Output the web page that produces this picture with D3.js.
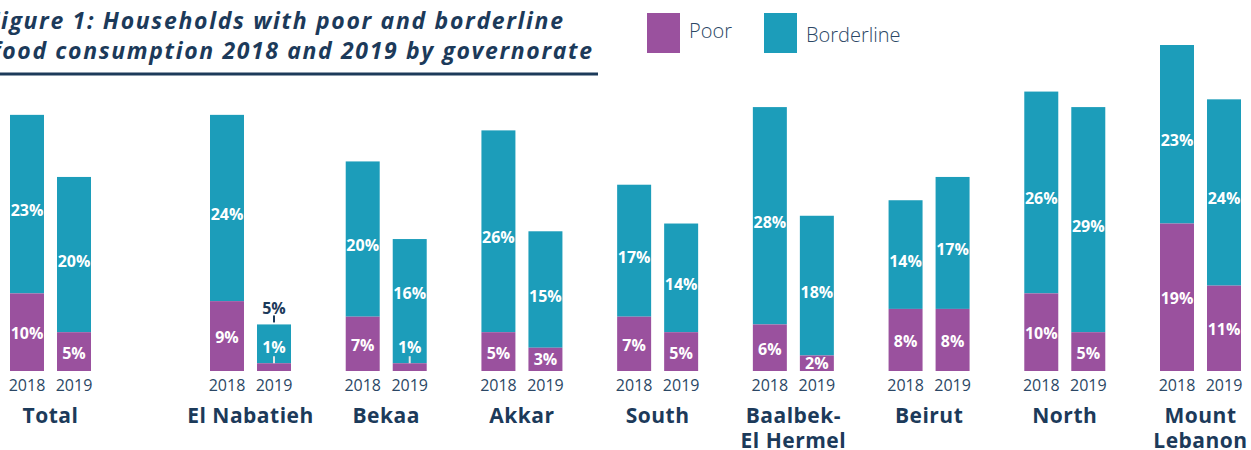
<!DOCTYPE html>
<html><head><meta charset="utf-8">
<script src="https://cdn.jsdelivr.net/npm/d3@7"></script>
<style>
html,body{margin:0;padding:0;background:#fff;}
svg{display:block;font-family:"Open Sans",sans-serif;}
</style></head>
<body><svg id="chart" width="1251" height="450"></svg>
<script>
const categories = ["Total","El Nabatieh","Bekaa","Akkar","South","Baalbek-El Hermel","Beirut","North","Mount Lebanon"];
const categoryLines = [["Total"],["El Nabatieh"],["Bekaa"],["Akkar"],["South"],["Baalbek-","El Hermel"],["Beirut"],["North"],["Mount","Lebanon"]];
const years = ["2018","2019"];
const poor2018 = [10,9,7,5,7,6,8,10,19];
const border2018 = [23,24,20,26,17,28,14,26,23];
const poor2019 = [5,1,1,3,5,2,8,5,11];
const border2019 = [20,5,16,15,14,18,17,29,24];
const seriesNames = ["Poor","Borderline"];
const titleLines = ["Figure 1: Households with poor and borderline","food consumption 2018 and 2019 by governorate"];

const colors = {Poor:"#9a519e", Borderline:"#1c9dba"};
const navy = "#1c3a5a";

const rows = [];
categories.forEach((c,i)=>{
  rows.push({cat:c, year:"2018", poor:poor2018[i], border:border2018[i]});
  rows.push({cat:c, year:"2019", poor:poor2019[i], border:border2019[i]});
});

const svg = d3.select("#chart");
const baseY = 371;
const y = d3.scaleLinear().domain([0, d3.max(rows, d=>d.poor+d.border)]).range([baseY, 45]);

// group positions: Total sits apart, remaining governorates evenly spaced
const rest = categories.slice(1);
const xRest = d3.scalePoint().domain(rest).range([250.5, 1200.5]);
const totalGap = 200;
const xc = c => c === categories[0] ? xRest(rest[0]) - totalGap : xRest(c);
const xYear = d3.scaleBand().domain(years).range([-40.5, 40.5]).paddingInner(0.277);
const barW = xYear.bandwidth();
const bx = d => xc(d.cat) + xYear(d.year);
const bcx = d => bx(d) + barW/2;

const g = svg.append("g");
// borderline
g.selectAll("rect.b").data(rows).join("rect").attr("class","b")
  .attr("x",bx).attr("width",barW)
  .attr("y",d=>y(d.poor+d.border)).attr("height",d=>y(d.poor)-y(d.poor+d.border))
  .attr("fill",colors.Borderline);
// poor
g.selectAll("rect.p").data(rows).join("rect").attr("class","p")
  .attr("x",bx).attr("width",barW)
  .attr("y",d=>y(d.poor)).attr("height",d=>baseY-y(d.poor))
  .attr("fill",colors.Poor);

const lblStyle = s => s.attr("text-anchor","middle").attr("dominant-baseline","central")
  .attr("font-weight",700).attr("font-size",16);

rows.forEach(d=>{
  const poorH = baseY - y(d.poor);
  const borderTop = y(d.poor+d.border);
  const borderH = y(d.poor) - borderTop;
  const smallPoor = poorH < 12;
  const borderAbove = smallPoor && borderH < 60;
  if (smallPoor){
    g.append("line").attr("x1",bcx(d)).attr("x2",bcx(d)).attr("y1",y(d.poor)-7).attr("y2",y(d.poor))
      .attr("stroke","#e6e6e6").attr("stroke-width",2);
    g.append("text").call(lblStyle).attr("x",bcx(d)).attr("y",y(d.poor)-16).attr("fill","#fff").text(d.poor+"%");
  } else {
    g.append("text").call(lblStyle).attr("x",bcx(d)).attr("y",(baseY+y(d.poor))/2 + (poorH > 30 ? 1 : 0)).attr("fill","#fff").text(d.poor+"%");
  }
  if (borderAbove){
    g.append("line").attr("x1",bcx(d)).attr("x2",bcx(d)).attr("y1",borderTop-9).attr("y2",borderTop-2)
      .attr("stroke",navy).attr("stroke-width",2);
    g.append("text").call(lblStyle).attr("x",bcx(d)).attr("y",borderTop-16).attr("fill",navy).text(d.border+"%");
  } else {
    const cy = smallPoor ? (borderTop + y(d.poor) - 24)/2 + 4 : (borderTop + y(d.poor))/2 + 6;
    g.append("text").call(lblStyle).attr("x",bcx(d)).attr("y",cy).attr("fill","#fff").text(d.border+"%");
  }
});

// year labels
g.selectAll("text.yr").data(rows).join("text").attr("class","yr")
  .attr("x",bcx).attr("y",391).attr("text-anchor","middle")
  .attr("font-size",16).attr("fill","#2b4765").text(d=>d.year);

// category labels
categories.forEach((c,i)=>{
  const t = g.append("text").attr("x",xc(c)).attr("y",423).attr("text-anchor","middle")
    .attr("font-size",21).attr("font-weight",700).attr("letter-spacing",0.5).attr("fill",navy);
  categoryLines[i].forEach((ln,j)=>{
    t.append("tspan").attr("x",xc(c)).attr("dy",j===0?0:25).text(ln);
  });
});

// title (first letters run off the left edge, as in the source)
const titleEnds = [563, 592];
const titleLens = [576, 600];
titleLines.forEach((ln,i)=>{
  svg.append("text").attr("x",titleEnds[i]).attr("y",29+i*30).attr("text-anchor","end")
    .attr("font-size",23).attr("font-weight",700).attr("font-style","italic").attr("fill",navy)
    .attr("textLength",titleLens[i]).attr("lengthAdjust","spacing").text(ln);
});
svg.append("line").attr("x1",0).attr("x2",598).attr("y1",74).attr("y2",74)
  .attr("stroke",navy).attr("stroke-width",3);

// legend
const legX = d3.scaleOrdinal().domain(seriesNames).range([647,764]);
const leg = svg.selectAll("g.leg").data(seriesNames).join("g").attr("class","leg");
leg.append("rect").attr("x",d=>legX(d)).attr("y",13).attr("width",33).attr("height",40).attr("fill",d=>colors[d]);
leg.append("text").attr("x",d=>legX(d)+42).attr("y",(d,i)=>i===0?38:42)
  .attr("font-size",20).attr("font-weight",300).attr("fill","#2b4765").text(d=>d);
</script></body></html>
